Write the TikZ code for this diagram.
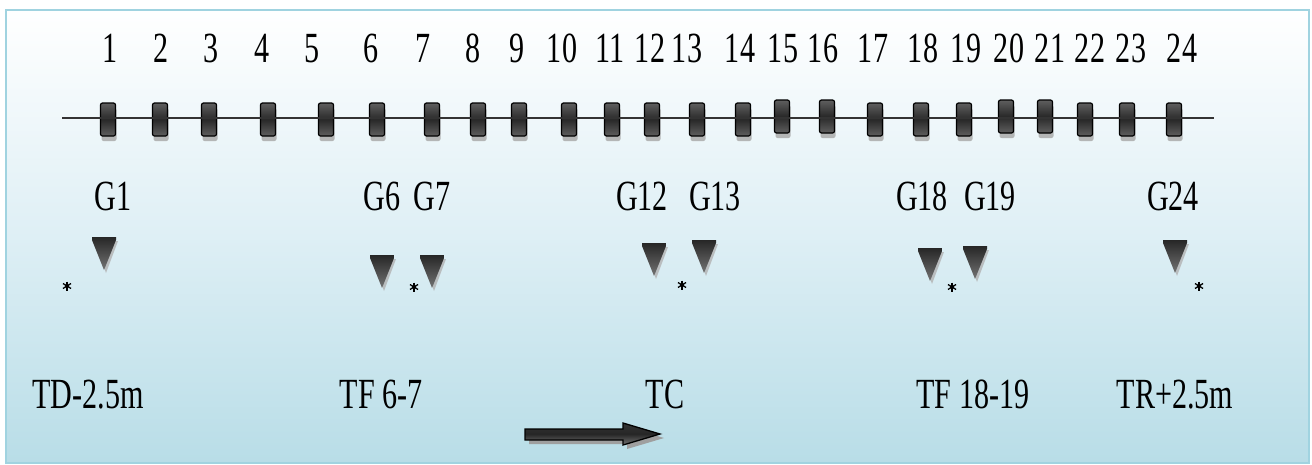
\documentclass[tikz,border=0pt]{standalone}
\usepackage{fontspec}
\setmainfont{Liberation Serif}
\begin{document}
\begin{tikzpicture}[x=1pt,y=-1pt,
  lbl/.style={font=\fontsize{43}{43}\selectfont, inner sep=0pt, anchor=base, xscale=0.7},
  sleeper/.style={draw=black, line width=1.2pt, rounded corners=2pt, top color=sleepA, bottom color=sleepA, middle color=sleepB},
  sleepshadow/.style={fill=gray!70, draw=none, rounded corners=2pt, opacity=0.8},
  gauge/.style={draw=none, top color=black!85, bottom color=black!55},
  gshadow/.style={fill=gray!60, draw=none, opacity=0.8},
  starmark/.style={line width=1.3pt, draw=black},
]
\definecolor{bgtop}{RGB}{255,255,255}
\definecolor{bgmid}{RGB}{222,239,245}
\definecolor{bgbot}{RGB}{184,221,231}
\definecolor{framec}{RGB}{160,211,224}
\definecolor{sleepA}{RGB}{95,95,95}
\definecolor{sleepB}{RGB}{40,40,40}
\useasboundingbox (0,0) rectangle (1312,464);
\fill[white] (0,0) rectangle (1312,464);
% background panel
\shade[top color=bgtop, bottom color=bgbot, middle color=bgmid] (6,10) rectangle (1309,463);
\draw[framec, line width=2pt] (6,10) rectangle (1309,463);
% rail
\coordinate (railL) at (62,118);
\coordinate (railR) at (1214,118);
% sleepers
\foreach \n/\x/\dy in {1/108/0,2/160/0,3/209/0,4/268/0,5/326/0,6/377/0,7/432/0,8/478/0,9/519/0,10/569/0,11/612/0,12/652/0,13/697/0,14/743/0,15/782/-3,16/827/-3,17/875/0,18/921/0,19/964/0,20/1006/-3,21/1045/-3,22/1085/0,23/1127/0,24/1174/0}{
  \fill[sleepshadow] (\x-6.5,108+\dy) rectangle (\x+8.5,141+\dy);
}
\draw[line width=2pt, black] (railL) -- (railR);
\foreach \n/\x/\dy in {1/108/0,2/160/0,3/209/0,4/268/0,5/326/0,6/377/0,7/432/0,8/478/0,9/519/0,10/569/0,11/612/0,12/652/0,13/697/0,14/743/0,15/782/-3,16/827/-3,17/875/0,18/921/0,19/964/0,20/1006/-3,21/1045/-3,22/1085/0,23/1127/0,24/1174/0}{
  \node[sleeper, minimum width=15pt, minimum height=33pt, inner sep=0pt] (s\n) at (\x,119.5+\dy) {};
}
\draw[line width=1.2pt, black!80] (railL) -- (railR);
% numbers
\foreach \n/\x in {1/110,2/161,3/211,4/262,5/312,6/371,7/423,8/473,9/517,10/562,11/610,12/650,13/687,14/740,15/783,16/823,17/873,18/923,19/966,20/1009,21/1050,22/1090,23/1131,24/1182}{
  \node[lbl] (n\n) at (\x,62) {\n};
}
% G labels
\node[lbl] (g1) at (113,210) {G1};
\node[lbl] (g6) at (382,210) {G6};
\node[lbl] (g7) at (432,210) {G7};
\node[lbl] (g12) at (642,210) {G12};
\node[lbl] (g13) at (715,210) {G13};
\node[lbl] (g18) at (922,210) {G18};
\node[lbl] (g19) at (990,210) {G19};
\node[lbl] (g24) at (1173,210) {G24};
% gauges (triangles): center x, top y
\foreach \x/\t in {104/237,382/255,432/255,654/243,704/240,930/248,975/246,1175/240}{
  \fill[gshadow] (\x-9,\t+4) -- (\x+14,\t+4) -- (\x+2,\t+36) -- cycle;
  \shade[gauge] (\x-12,\t) -- (\x+12,\t) -- (\x+12,\t+3) -- (\x,\t+33) -- (\x-12,\t+3) -- cycle;
}
% star marks
\foreach \x/\y in {67/286,414/287,682/285,952/287,1199/286}{
  \draw[starmark] (\x,\y-4.5) -- (\x,\y+4.5);
  \draw[starmark] (\x-4,\y-2.5) -- (\x+4,\y+2.5);
  \draw[starmark] (\x-4,\y+2.5) -- (\x+4,\y-2.5);
  \fill[black] (\x,\y) circle (2pt);
}
% bottom labels
\node[lbl] (td) at (88,408) {TD-2.5m};
\node[lbl] (tf1) at (381,408) {TF 6-7};
\node[lbl] (tc) at (665,408) {TC};
\node[lbl] (tf2) at (973,408) {TF 18-19};
\node[lbl] (tr) at (1175,408) {TR+2.5m};
% direction arrow
\fill[gray!75] (529,433) -- (627,433) -- (627,427) -- (664,438) -- (627,449) -- (627,444) -- (529,444) -- cycle;
\draw[black, line width=1.3pt, top color=black!80, bottom color=black!55, middle color=black!85] (525,429) -- (623,429) -- (623,423) -- (660,434) -- (623,445) -- (623,440) -- (525,440) -- cycle;
\end{tikzpicture}
\end{document}
